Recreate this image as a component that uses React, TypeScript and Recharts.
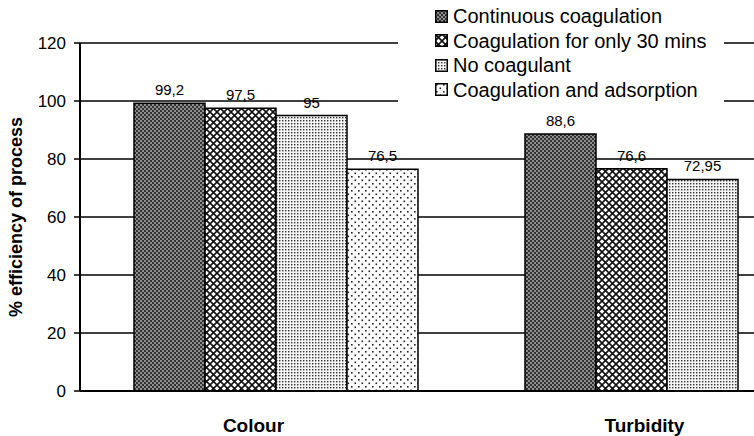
import { Bar, BarChart, CartesianGrid, LabelList, XAxis, YAxis } from 'recharts'

const categories = ['Colour', 'Turbidity']
const continuous = [99.2, 88.6]
const thirtyMins = [97.5, 76.6]
const noCoagulant = [95, 72.95]
const adsorption: (number | null)[] = [76.5, null]
const yTicks = [0, 20, 40, 60, 80, 100, 120]

const seriesInfo = [
  { key: 'continuous', name: 'Continuous coagulation', fill: 'url(#patDark)' },
  { key: 'thirtyMins', name: 'Coagulation for only 30 mins', fill: 'url(#patCross)' },
  { key: 'noCoagulant', name: 'No coagulant', fill: 'url(#patFine)' },
  { key: 'adsorption', name: 'Coagulation and adsorption', fill: 'url(#patDots)' },
]

const data = categories.map((cat, i) => ({
  category: cat,
  continuous: continuous[i],
  thirtyMins: thirtyMins[i],
  noCoagulant: noCoagulant[i],
  adsorption: adsorption[i],
}))

const font = '"Liberation Sans", Arial, sans-serif'

const fmt = (v: unknown) => (v == null ? '' : String(v).replace('.', ','))

const YLabel = (props: any) => {
  const vb = props.viewBox || { x: 0, y: 43, width: 80, height: 348 }
  const cx = vb.x + 16
  const cy = vb.y + vb.height / 2
  return (
    <text
      x={cx}
      y={cy}
      transform={`rotate(-90, ${cx}, ${cy})`}
      textAnchor="middle"
      dominantBaseline="central"
      fontFamily={font}
      fontSize={18}
      fontWeight="bold"
      fill="#000"
    >
      % efficiency of process
    </text>
  )
}

const App = () => {
  return (
    <div style={{ position: 'fixed', left: 0, top: 0, width: 754, height: 436, overflow: 'hidden', background: '#fff' }}>
      <BarChart
        width={880}
        height={436}
        data={data}
        margin={{ top: 43, right: 18, bottom: 0, left: 0 }}
        barSize={71}
        barGap={0}
      >
        <defs>
          <pattern id="patDark" width="4" height="4" patternUnits="userSpaceOnUse">
            <rect width="4" height="4" fill="#333" />
            <rect x="0" y="0" width="2" height="2" fill="#8e8e8e" />
            <rect x="2" y="2" width="2" height="2" fill="#8e8e8e" />
          </pattern>
          <pattern id="patCross" width="7" height="7" patternUnits="userSpaceOnUse">
            <rect width="7" height="7" fill="#fff" />
            <path d="M0,0 L7,7 M7,0 L0,7" stroke="#111" strokeWidth="1.6" />
          </pattern>
          <pattern id="patFine" width="3" height="3" patternUnits="userSpaceOnUse">
            <rect width="3" height="3" fill="#f4f4f4" />
            <rect x="0" y="0" width="1.4" height="1.4" fill="#333" />
          </pattern>
          <pattern id="patDots" width="7" height="7" patternUnits="userSpaceOnUse">
            <rect width="7" height="7" fill="#fff" />
            <rect x="1" y="1" width="1.6" height="1.6" fill="#222" />
            <rect x="4.5" y="4.5" width="1.6" height="1.6" fill="#222" />
          </pattern>
        </defs>
        <CartesianGrid vertical={false} stroke="#000" strokeWidth={1.5} />
        <XAxis
          dataKey="category"
          height={45}
          axisLine={{ stroke: '#000', strokeWidth: 2 }}
          tickLine={false}
          tickMargin={22}
          tick={{ fill: '#000', fontSize: 19, fontWeight: 'bold', fontFamily: font, dx: -22 }}
        />
        <YAxis
          width={80}
          domain={[0, 120]}
          ticks={yTicks}
          interval={0}
          axisLine={{ stroke: '#000', strokeWidth: 2 }}
          tickLine={{ stroke: '#000', strokeWidth: 1.5 }}
          tickSize={6}
          tickMargin={8}
          tick={{ fill: '#000', fontSize: 17, fontFamily: font }}
          label={<YLabel />}
        />
        {seriesInfo.map((s) => (
          <Bar
            key={s.key}
            dataKey={s.key}
            name={s.name}
            fill={s.fill}
            stroke="#000"
            strokeWidth={1.5}
            isAnimationActive={false}
          >
            <LabelList
              dataKey={s.key}
              position="top"
              offset={8}
              formatter={fmt}
              style={{ fill: '#000', fontSize: 15, fontFamily: font }}
            />
          </Bar>
        ))}
      </BarChart>
      <div
        style={{
          position: 'absolute',
          left: 398,
          top: 0,
          width: 326,
          height: 104,
          background: '#fff',
          boxSizing: 'border-box',
          paddingLeft: 37,
          paddingTop: 4,
          fontFamily: font,
          fontSize: 20,
          lineHeight: '24.5px',
          color: '#000',
        }}
      >
        {seriesInfo.map((s) => (
          <div key={s.key} style={{ display: 'flex', alignItems: 'center', whiteSpace: 'nowrap' }}>
            <svg width={13} height={13} style={{ marginRight: 5 }}>
              <rect x={0.75} y={0.75} width={11.5} height={11.5} fill={s.fill} stroke="#000" strokeWidth={1.5} />
            </svg>
            <span>{s.name}</span>
          </div>
        ))}
      </div>
    </div>
  )
}

export default App
